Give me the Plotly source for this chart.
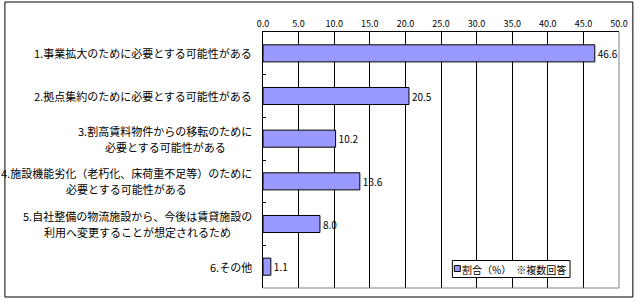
import plotly.graph_objects as go

categories = [
    "1.事業拡大のために必要とする可能性がある",
    "2.拠点集約のために必要とする可能性がある",
    "3.割高賃料物件からの移転のために<br>必要とする可能性がある",
    "4.施設機能劣化（老朽化、床荷重不足等）のために<br>必要とする可能性がある",
    "5.自社整備の物流施設から、今後は賃貸施設の<br>利用へ変更することが想定されるため",
    "6.その他",
]
values = [46.6, 20.5, 10.2, 13.6, 8.0, 1.1]
tick_vals = [0, 5, 10, 15, 20, 25, 30, 35, 40, 45, 50]
tick_text = ["0.0", "5.0", "10.0", "15.0", "20.0", "25.0", "30.0", "35.0", "40.0", "45.0", "50.0"]
series_name = "割合（%）　※複数回答"

FONT = "Noto Sans CJK JP"
BAR_COLOR = "#9999FF"
LABEL_SIZE = 11

W, H = 640, 302
ml, mr, mt, mb = 263, 17, 32, 14
pw, ph = W - ml - mr, H - mt - mb
LINE_STEP = 16


def px_x(x):
    return (x - ml) / pw


def px_y(y):
    return (H - mb - y) / ph


def text_width(s, size):
    w = 0.0
    for ch in s:
        if ord(ch) >= 0x2E80:
            w += 1.0
        elif ch == ".":
            w += 0.25
        else:
            w += 0.52
    return w * size


fig = go.Figure()
fig.add_trace(go.Bar(
    y=categories, x=values, orientation="h", name=series_name,
    marker=dict(color=BAR_COLOR, line=dict(color="black", width=1)),
    width=0.4,
    text=[f"{v:.1f}" for v in values], textposition="outside",
    textfont=dict(size=10, color="black", family=FONT),
    cliponaxis=False, showlegend=False,
))

# category labels: block right-aligned, each line centred within the block
for c in categories:
    lines = c.split("<br>")
    n = len(lines)
    widths = [text_width(ln, LABEL_SIZE) for ln in lines]
    wmax = max(widths)
    for i, ln in enumerate(lines):
        shift = ((n - 1) / 2 - i) * LINE_STEP
        fig.add_annotation(
            x=0, xref="paper", y=c, yref="y", text=ln, showarrow=False,
            xanchor="right", xshift=-10 - (wmax - widths[i]) / 2, yshift=shift,
            borderpad=0,
            font=dict(size=LABEL_SIZE, color="black", family=FONT),
        )

# plot-area right/bottom border (gray)
fig.add_shape(type="line", xref="paper", yref="paper", x0=1, x1=1, y0=0, y1=1,
              line=dict(color="#808080", width=1), layer="above")
fig.add_shape(type="line", xref="paper", yref="paper", x0=0, x1=1, y0=0, y1=0,
              line=dict(color="#808080", width=1), layer="above")
# outer chart border
fig.add_shape(type="rect", xref="paper", yref="paper",
              x0=px_x(2), x1=px_x(637), y0=px_y(297), y1=px_y(2),
              line=dict(color="black", width=1), layer="above")

# legend box
fig.add_shape(type="rect", xref="paper", yref="paper",
              x0=px_x(454.5), x1=px_x(573.5), y0=px_y(277.5), y1=px_y(260.5),
              line=dict(color="black", width=1), fillcolor="white", layer="above")
fig.add_shape(type="rect", xref="paper", yref="paper",
              x0=px_x(456.5), x1=px_x(462.5), y0=px_y(271.5), y1=px_y(265.5),
              line=dict(color="black", width=1), fillcolor=BAR_COLOR, layer="above")
fig.add_annotation(
    x=px_x(463), xref="paper", y=px_y(269), yref="paper", text=series_name,
    showarrow=False, xanchor="left", yanchor="middle", borderpad=0,
    font=dict(size=10, color="black", family=FONT),
)

fig.update_layout(
    width=W, height=H,
    margin=dict(l=ml, r=mr, t=mt, b=mb),
    paper_bgcolor="white", plot_bgcolor="white",
    font=dict(family=FONT, color="black"),
    showlegend=False,
    xaxis=dict(
        side="top", range=[0, 50], tickvals=tick_vals, ticktext=tick_text,
        showgrid=True, gridcolor="black", gridwidth=1,
        showline=True, linecolor="black", linewidth=1,
        ticks="", tickfont=dict(size=9, family=FONT, color="black"),
        zeroline=False, fixedrange=True,
    ),
    yaxis=dict(
        autorange="reversed", showticklabels=False,
        showline=True, linecolor="black", linewidth=1,
        ticks="inside", ticklen=3, tickcolor="black", tickson="boundaries",
        showgrid=False, fixedrange=True,
    ),
    bargap=0.6,
)

fig.write_html("out.html")
